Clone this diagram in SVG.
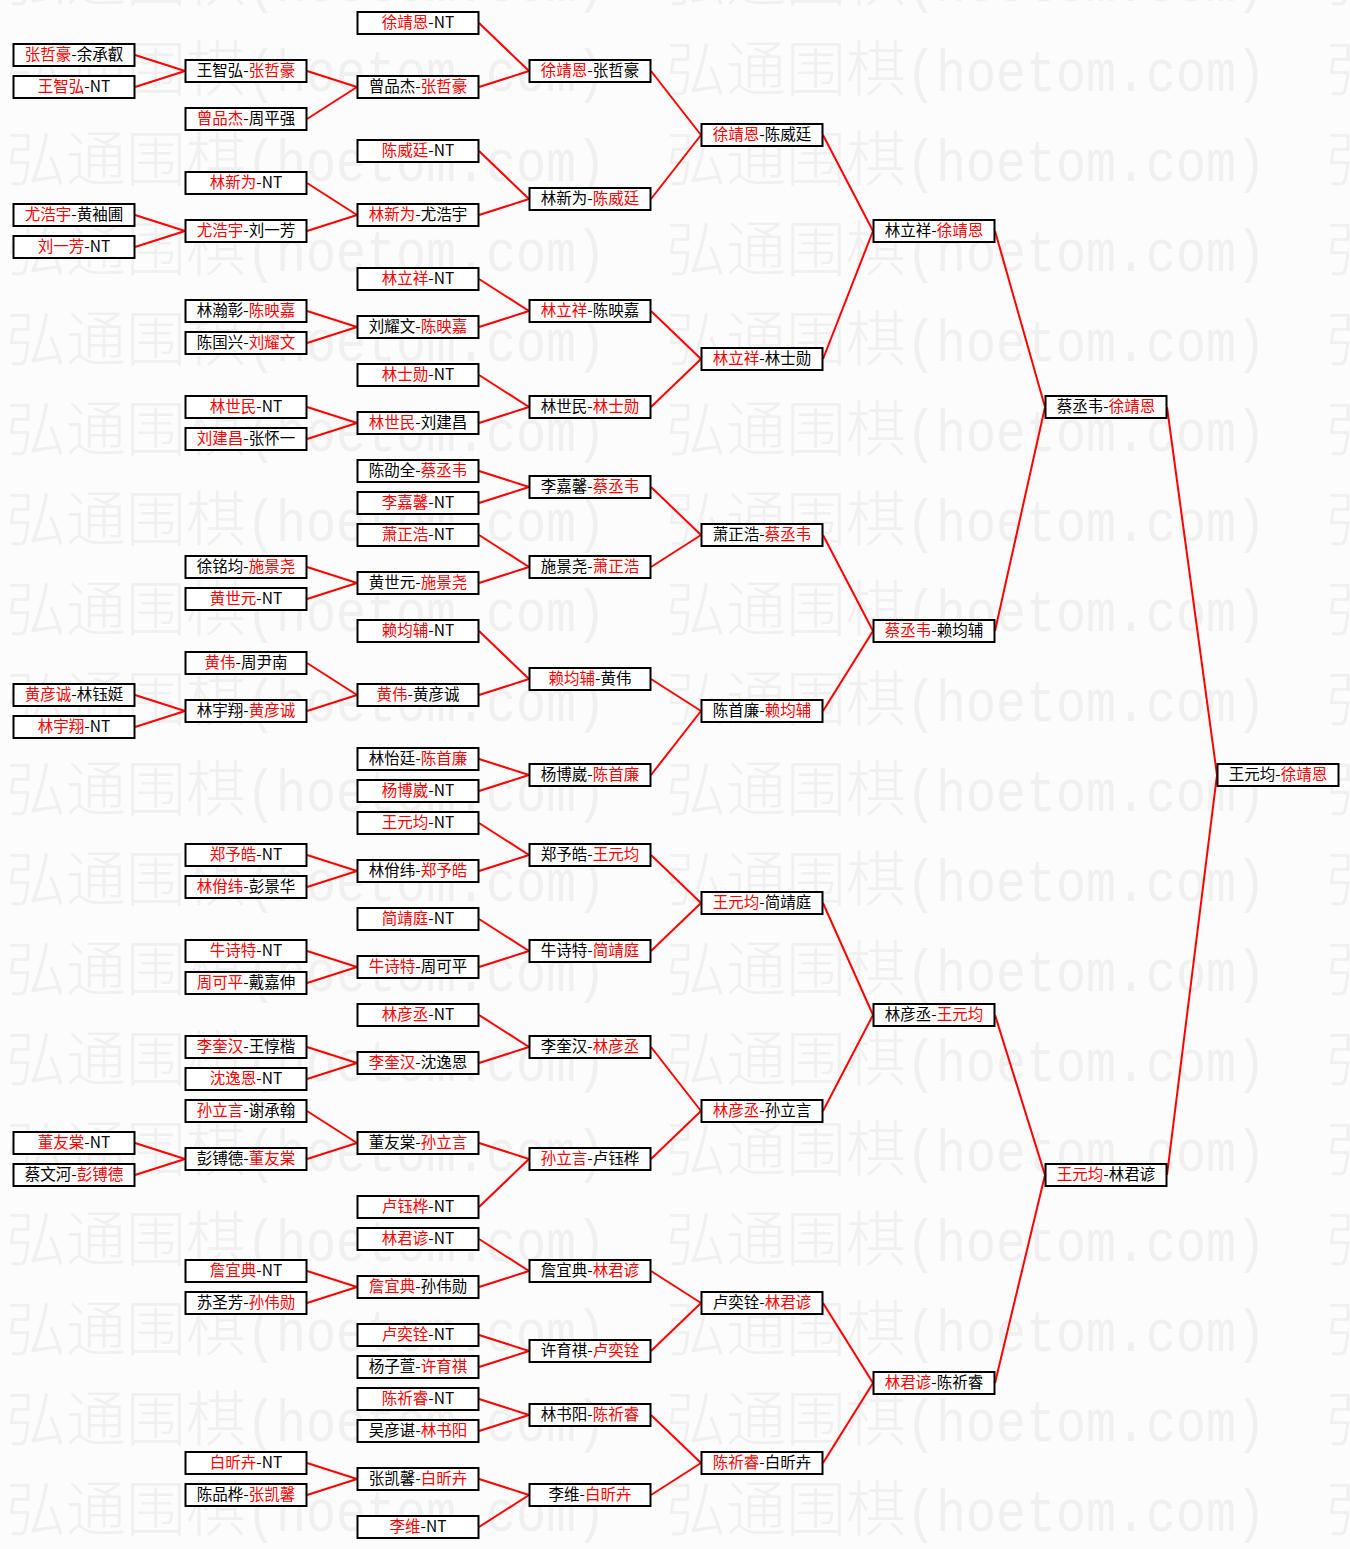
<svg xmlns="http://www.w3.org/2000/svg" width="1350" height="1549" viewBox="0 0 1350 1549">
<style>
.bg{fill:#fcfcfc}
.wmc{font-family:"Noto Sans CJK SC","Liberation Serif",sans-serif;font-size:60px;font-weight:300;fill:#f0f0f0}
.wml{font-family:"Liberation Mono",monospace;font-size:60px;fill:#f0f0f0}
.box{fill:#ffffff;stroke:#000000;stroke-width:2}
.lbl{font-family:"Noto Sans CJK SC","Liberation Sans",sans-serif;font-size:15.5px;fill:#000000;text-anchor:middle}
.r{fill:#ff0000}
.cn path{stroke:#ff0000;stroke-width:2;fill:none}
</style>
<defs>
<pattern id="wm" patternUnits="userSpaceOnUse" x="6" y="16" width="660" height="90">
<text class="wmc" x="0" y="75">弘通围棋</text>
<text class="wml" x="240" y="75" textLength="360" lengthAdjust="spacingAndGlyphs">(hoetom.com)</text>
</pattern>
</defs>
<rect class="bg" x="0" y="0" width="1350" height="1549"/>
<rect x="0" y="0" width="1350" height="1549" fill="url(#wm)"/>
<g id="connectors" class="cn">
<path d="M135 55L185 71"/><path d="M135 87L185 71"/><path d="M135 215L185 231"/><path d="M135 247L185 231"/><path d="M135 695L185 711"/><path d="M135 727L185 711"/><path d="M135 1143L185 1159"/><path d="M135 1175L185 1159"/>
<path d="M307 71L357 87"/><path d="M307 119L357 87"/><path d="M307 183L357 215"/><path d="M307 231L357 215"/><path d="M307 311L357 327"/><path d="M307 343L357 327"/><path d="M307 407L357 423"/><path d="M307 439L357 423"/><path d="M307 567L357 583"/><path d="M307 599L357 583"/><path d="M307 663L357 695"/><path d="M307 711L357 695"/><path d="M307 855L357 871"/><path d="M307 887L357 871"/><path d="M307 951L357 967"/><path d="M307 983L357 967"/><path d="M307 1047L357 1063"/><path d="M307 1079L357 1063"/><path d="M307 1111L357 1143"/><path d="M307 1159L357 1143"/><path d="M307 1271L357 1287"/><path d="M307 1303L357 1287"/><path d="M307 1463L357 1479"/><path d="M307 1495L357 1479"/>
<path d="M479 23L529 71"/><path d="M479 87L529 71"/><path d="M479 151L529 199"/><path d="M479 215L529 199"/><path d="M479 279L529 311"/><path d="M479 327L529 311"/><path d="M479 375L529 407"/><path d="M479 423L529 407"/><path d="M479 471L529 487"/><path d="M479 503L529 487"/><path d="M479 535L529 567"/><path d="M479 583L529 567"/><path d="M479 631L529 679"/><path d="M479 695L529 679"/><path d="M479 759L529 775"/><path d="M479 791L529 775"/><path d="M479 823L529 855"/><path d="M479 871L529 855"/><path d="M479 919L529 951"/><path d="M479 967L529 951"/><path d="M479 1015L529 1047"/><path d="M479 1063L529 1047"/><path d="M479 1143L529 1159"/><path d="M479 1207L529 1159"/><path d="M479 1239L529 1271"/><path d="M479 1287L529 1271"/><path d="M479 1335L529 1351"/><path d="M479 1367L529 1351"/><path d="M479 1399L529 1415"/><path d="M479 1431L529 1415"/><path d="M479 1479L529 1495"/><path d="M479 1527L529 1495"/>
<path d="M651 71L701 135"/><path d="M651 199L701 135"/><path d="M651 311L701 359"/><path d="M651 407L701 359"/><path d="M651 487L701 535"/><path d="M651 567L701 535"/><path d="M651 679L701 711"/><path d="M651 775L701 711"/><path d="M651 855L701 903"/><path d="M651 951L701 903"/><path d="M651 1047L701 1111"/><path d="M651 1159L701 1111"/><path d="M651 1271L701 1303"/><path d="M651 1351L701 1303"/><path d="M651 1415L701 1463"/><path d="M651 1495L701 1463"/>
<path d="M823 135L873 231"/><path d="M823 359L873 231"/><path d="M823 535L873 631"/><path d="M823 711L873 631"/><path d="M823 903L873 1015"/><path d="M823 1111L873 1015"/><path d="M823 1303L873 1383"/><path d="M823 1463L873 1383"/>
<path d="M995 231L1045 407"/><path d="M995 631L1045 407"/><path d="M995 1015L1045 1175"/><path d="M995 1383L1045 1175"/>
<path d="M1167 407L1217 775"/><path d="M1167 1175L1217 775"/>
</g>
<g id="n0-55"><rect class="box" x="13.5" y="44" width="121" height="22"/><text class="lbl" x="74" y="60"><tspan class="r">张哲豪</tspan>-余承叡</text></g>
<g id="n0-87"><rect class="box" x="13.5" y="76" width="121" height="22"/><text class="lbl" x="74" y="92"><tspan class="r">王智弘</tspan>-NT</text></g>
<g id="n0-215"><rect class="box" x="13.5" y="204" width="121" height="22"/><text class="lbl" x="74" y="220"><tspan class="r">尤浩宇</tspan>-黄袖圃</text></g>
<g id="n0-247"><rect class="box" x="13.5" y="236" width="121" height="22"/><text class="lbl" x="74" y="252"><tspan class="r">刘一芳</tspan>-NT</text></g>
<g id="n0-695"><rect class="box" x="13.5" y="684" width="121" height="22"/><text class="lbl" x="74" y="700"><tspan class="r">黄彦诚</tspan>-林钰娗</text></g>
<g id="n0-727"><rect class="box" x="13.5" y="716" width="121" height="22"/><text class="lbl" x="74" y="732"><tspan class="r">林宇翔</tspan>-NT</text></g>
<g id="n0-1143"><rect class="box" x="13.5" y="1132" width="121" height="22"/><text class="lbl" x="74" y="1148"><tspan class="r">董友棠</tspan>-NT</text></g>
<g id="n0-1175"><rect class="box" x="13.5" y="1164" width="121" height="22"/><text class="lbl" x="74" y="1180">蔡文河-<tspan class="r">彭镈德</tspan></text></g>
<g id="n1-71"><rect class="box" x="185.5" y="60" width="121" height="22"/><text class="lbl" x="246" y="76">王智弘-<tspan class="r">张哲豪</tspan></text></g>
<g id="n1-119"><rect class="box" x="185.5" y="108" width="121" height="22"/><text class="lbl" x="246" y="124"><tspan class="r">曾品杰</tspan>-周平强</text></g>
<g id="n1-183"><rect class="box" x="185.5" y="172" width="121" height="22"/><text class="lbl" x="246" y="188"><tspan class="r">林新为</tspan>-NT</text></g>
<g id="n1-231"><rect class="box" x="185.5" y="220" width="121" height="22"/><text class="lbl" x="246" y="236"><tspan class="r">尤浩宇</tspan>-刘一芳</text></g>
<g id="n1-311"><rect class="box" x="185.5" y="300" width="121" height="22"/><text class="lbl" x="246" y="316">林瀚彰-<tspan class="r">陈映嘉</tspan></text></g>
<g id="n1-343"><rect class="box" x="185.5" y="332" width="121" height="22"/><text class="lbl" x="246" y="348">陈国兴-<tspan class="r">刘耀文</tspan></text></g>
<g id="n1-407"><rect class="box" x="185.5" y="396" width="121" height="22"/><text class="lbl" x="246" y="412"><tspan class="r">林世民</tspan>-NT</text></g>
<g id="n1-439"><rect class="box" x="185.5" y="428" width="121" height="22"/><text class="lbl" x="246" y="444"><tspan class="r">刘建昌</tspan>-张怀一</text></g>
<g id="n1-567"><rect class="box" x="185.5" y="556" width="121" height="22"/><text class="lbl" x="246" y="572">徐铭均-<tspan class="r">施景尧</tspan></text></g>
<g id="n1-599"><rect class="box" x="185.5" y="588" width="121" height="22"/><text class="lbl" x="246" y="604"><tspan class="r">黄世元</tspan>-NT</text></g>
<g id="n1-663"><rect class="box" x="185.5" y="652" width="121" height="22"/><text class="lbl" x="246" y="668"><tspan class="r">黄伟</tspan>-周尹南</text></g>
<g id="n1-711"><rect class="box" x="185.5" y="700" width="121" height="22"/><text class="lbl" x="246" y="716">林宇翔-<tspan class="r">黄彦诚</tspan></text></g>
<g id="n1-855"><rect class="box" x="185.5" y="844" width="121" height="22"/><text class="lbl" x="246" y="860"><tspan class="r">郑予皓</tspan>-NT</text></g>
<g id="n1-887"><rect class="box" x="185.5" y="876" width="121" height="22"/><text class="lbl" x="246" y="892"><tspan class="r">林佾纬</tspan>-彭景华</text></g>
<g id="n1-951"><rect class="box" x="185.5" y="940" width="121" height="22"/><text class="lbl" x="246" y="956"><tspan class="r">牛诗特</tspan>-NT</text></g>
<g id="n1-983"><rect class="box" x="185.5" y="972" width="121" height="22"/><text class="lbl" x="246" y="988"><tspan class="r">周可平</tspan>-戴嘉伸</text></g>
<g id="n1-1047"><rect class="box" x="185.5" y="1036" width="121" height="22"/><text class="lbl" x="246" y="1052"><tspan class="r">李奎汉</tspan>-王惇楷</text></g>
<g id="n1-1079"><rect class="box" x="185.5" y="1068" width="121" height="22"/><text class="lbl" x="246" y="1084"><tspan class="r">沈逸恩</tspan>-NT</text></g>
<g id="n1-1111"><rect class="box" x="185.5" y="1100" width="121" height="22"/><text class="lbl" x="246" y="1116"><tspan class="r">孙立言</tspan>-谢承翰</text></g>
<g id="n1-1159"><rect class="box" x="185.5" y="1148" width="121" height="22"/><text class="lbl" x="246" y="1164">彭镈德-<tspan class="r">董友棠</tspan></text></g>
<g id="n1-1271"><rect class="box" x="185.5" y="1260" width="121" height="22"/><text class="lbl" x="246" y="1276"><tspan class="r">詹宜典</tspan>-NT</text></g>
<g id="n1-1303"><rect class="box" x="185.5" y="1292" width="121" height="22"/><text class="lbl" x="246" y="1308">苏圣芳-<tspan class="r">孙伟勋</tspan></text></g>
<g id="n1-1463"><rect class="box" x="185.5" y="1452" width="121" height="22"/><text class="lbl" x="246" y="1468"><tspan class="r">白昕卉</tspan>-NT</text></g>
<g id="n1-1495"><rect class="box" x="185.5" y="1484" width="121" height="22"/><text class="lbl" x="246" y="1500">陈品桦-<tspan class="r">张凯馨</tspan></text></g>
<g id="n2-23"><rect class="box" x="357.5" y="12" width="121" height="22"/><text class="lbl" x="418" y="28"><tspan class="r">徐靖恩</tspan>-NT</text></g>
<g id="n2-87"><rect class="box" x="357.5" y="76" width="121" height="22"/><text class="lbl" x="418" y="92">曾品杰-<tspan class="r">张哲豪</tspan></text></g>
<g id="n2-151"><rect class="box" x="357.5" y="140" width="121" height="22"/><text class="lbl" x="418" y="156"><tspan class="r">陈威廷</tspan>-NT</text></g>
<g id="n2-215"><rect class="box" x="357.5" y="204" width="121" height="22"/><text class="lbl" x="418" y="220"><tspan class="r">林新为</tspan>-尤浩宇</text></g>
<g id="n2-279"><rect class="box" x="357.5" y="268" width="121" height="22"/><text class="lbl" x="418" y="284"><tspan class="r">林立祥</tspan>-NT</text></g>
<g id="n2-327"><rect class="box" x="357.5" y="316" width="121" height="22"/><text class="lbl" x="418" y="332">刘耀文-<tspan class="r">陈映嘉</tspan></text></g>
<g id="n2-375"><rect class="box" x="357.5" y="364" width="121" height="22"/><text class="lbl" x="418" y="380"><tspan class="r">林士勋</tspan>-NT</text></g>
<g id="n2-423"><rect class="box" x="357.5" y="412" width="121" height="22"/><text class="lbl" x="418" y="428"><tspan class="r">林世民</tspan>-刘建昌</text></g>
<g id="n2-471"><rect class="box" x="357.5" y="460" width="121" height="22"/><text class="lbl" x="418" y="476">陈劭全-<tspan class="r">蔡丞韦</tspan></text></g>
<g id="n2-503"><rect class="box" x="357.5" y="492" width="121" height="22"/><text class="lbl" x="418" y="508"><tspan class="r">李嘉馨</tspan>-NT</text></g>
<g id="n2-535"><rect class="box" x="357.5" y="524" width="121" height="22"/><text class="lbl" x="418" y="540"><tspan class="r">萧正浩</tspan>-NT</text></g>
<g id="n2-583"><rect class="box" x="357.5" y="572" width="121" height="22"/><text class="lbl" x="418" y="588">黄世元-<tspan class="r">施景尧</tspan></text></g>
<g id="n2-631"><rect class="box" x="357.5" y="620" width="121" height="22"/><text class="lbl" x="418" y="636"><tspan class="r">赖均辅</tspan>-NT</text></g>
<g id="n2-695"><rect class="box" x="357.5" y="684" width="121" height="22"/><text class="lbl" x="418" y="700"><tspan class="r">黄伟</tspan>-黄彦诚</text></g>
<g id="n2-759"><rect class="box" x="357.5" y="748" width="121" height="22"/><text class="lbl" x="418" y="764">林怡廷-<tspan class="r">陈首廉</tspan></text></g>
<g id="n2-791"><rect class="box" x="357.5" y="780" width="121" height="22"/><text class="lbl" x="418" y="796"><tspan class="r">杨博崴</tspan>-NT</text></g>
<g id="n2-823"><rect class="box" x="357.5" y="812" width="121" height="22"/><text class="lbl" x="418" y="828"><tspan class="r">王元均</tspan>-NT</text></g>
<g id="n2-871"><rect class="box" x="357.5" y="860" width="121" height="22"/><text class="lbl" x="418" y="876">林佾纬-<tspan class="r">郑予皓</tspan></text></g>
<g id="n2-919"><rect class="box" x="357.5" y="908" width="121" height="22"/><text class="lbl" x="418" y="924"><tspan class="r">简靖庭</tspan>-NT</text></g>
<g id="n2-967"><rect class="box" x="357.5" y="956" width="121" height="22"/><text class="lbl" x="418" y="972"><tspan class="r">牛诗特</tspan>-周可平</text></g>
<g id="n2-1015"><rect class="box" x="357.5" y="1004" width="121" height="22"/><text class="lbl" x="418" y="1020"><tspan class="r">林彦丞</tspan>-NT</text></g>
<g id="n2-1063"><rect class="box" x="357.5" y="1052" width="121" height="22"/><text class="lbl" x="418" y="1068"><tspan class="r">李奎汉</tspan>-沈逸恩</text></g>
<g id="n2-1143"><rect class="box" x="357.5" y="1132" width="121" height="22"/><text class="lbl" x="418" y="1148">董友棠-<tspan class="r">孙立言</tspan></text></g>
<g id="n2-1207"><rect class="box" x="357.5" y="1196" width="121" height="22"/><text class="lbl" x="418" y="1212"><tspan class="r">卢钰桦</tspan>-NT</text></g>
<g id="n2-1239"><rect class="box" x="357.5" y="1228" width="121" height="22"/><text class="lbl" x="418" y="1244"><tspan class="r">林君谚</tspan>-NT</text></g>
<g id="n2-1287"><rect class="box" x="357.5" y="1276" width="121" height="22"/><text class="lbl" x="418" y="1292"><tspan class="r">詹宜典</tspan>-孙伟勋</text></g>
<g id="n2-1335"><rect class="box" x="357.5" y="1324" width="121" height="22"/><text class="lbl" x="418" y="1340"><tspan class="r">卢奕铨</tspan>-NT</text></g>
<g id="n2-1367"><rect class="box" x="357.5" y="1356" width="121" height="22"/><text class="lbl" x="418" y="1372">杨子萱-<tspan class="r">许育祺</tspan></text></g>
<g id="n2-1399"><rect class="box" x="357.5" y="1388" width="121" height="22"/><text class="lbl" x="418" y="1404"><tspan class="r">陈祈睿</tspan>-NT</text></g>
<g id="n2-1431"><rect class="box" x="357.5" y="1420" width="121" height="22"/><text class="lbl" x="418" y="1436">吴彦谌-<tspan class="r">林书阳</tspan></text></g>
<g id="n2-1479"><rect class="box" x="357.5" y="1468" width="121" height="22"/><text class="lbl" x="418" y="1484">张凯馨-<tspan class="r">白昕卉</tspan></text></g>
<g id="n2-1527"><rect class="box" x="357.5" y="1516" width="121" height="22"/><text class="lbl" x="418" y="1532"><tspan class="r">李维</tspan>-NT</text></g>
<g id="n3-71"><rect class="box" x="529.5" y="60" width="121" height="22"/><text class="lbl" x="590" y="76"><tspan class="r">徐靖恩</tspan>-张哲豪</text></g>
<g id="n3-199"><rect class="box" x="529.5" y="188" width="121" height="22"/><text class="lbl" x="590" y="204">林新为-<tspan class="r">陈威廷</tspan></text></g>
<g id="n3-311"><rect class="box" x="529.5" y="300" width="121" height="22"/><text class="lbl" x="590" y="316"><tspan class="r">林立祥</tspan>-陈映嘉</text></g>
<g id="n3-407"><rect class="box" x="529.5" y="396" width="121" height="22"/><text class="lbl" x="590" y="412">林世民-<tspan class="r">林士勋</tspan></text></g>
<g id="n3-487"><rect class="box" x="529.5" y="476" width="121" height="22"/><text class="lbl" x="590" y="492">李嘉馨-<tspan class="r">蔡丞韦</tspan></text></g>
<g id="n3-567"><rect class="box" x="529.5" y="556" width="121" height="22"/><text class="lbl" x="590" y="572">施景尧-<tspan class="r">萧正浩</tspan></text></g>
<g id="n3-679"><rect class="box" x="529.5" y="668" width="121" height="22"/><text class="lbl" x="590" y="684"><tspan class="r">赖均辅</tspan>-黄伟</text></g>
<g id="n3-775"><rect class="box" x="529.5" y="764" width="121" height="22"/><text class="lbl" x="590" y="780">杨博崴-<tspan class="r">陈首廉</tspan></text></g>
<g id="n3-855"><rect class="box" x="529.5" y="844" width="121" height="22"/><text class="lbl" x="590" y="860">郑予皓-<tspan class="r">王元均</tspan></text></g>
<g id="n3-951"><rect class="box" x="529.5" y="940" width="121" height="22"/><text class="lbl" x="590" y="956">牛诗特-<tspan class="r">简靖庭</tspan></text></g>
<g id="n3-1047"><rect class="box" x="529.5" y="1036" width="121" height="22"/><text class="lbl" x="590" y="1052">李奎汉-<tspan class="r">林彦丞</tspan></text></g>
<g id="n3-1159"><rect class="box" x="529.5" y="1148" width="121" height="22"/><text class="lbl" x="590" y="1164"><tspan class="r">孙立言</tspan>-卢钰桦</text></g>
<g id="n3-1271"><rect class="box" x="529.5" y="1260" width="121" height="22"/><text class="lbl" x="590" y="1276">詹宜典-<tspan class="r">林君谚</tspan></text></g>
<g id="n3-1351"><rect class="box" x="529.5" y="1340" width="121" height="22"/><text class="lbl" x="590" y="1356">许育祺-<tspan class="r">卢奕铨</tspan></text></g>
<g id="n3-1415"><rect class="box" x="529.5" y="1404" width="121" height="22"/><text class="lbl" x="590" y="1420">林书阳-<tspan class="r">陈祈睿</tspan></text></g>
<g id="n3-1495"><rect class="box" x="529.5" y="1484" width="121" height="22"/><text class="lbl" x="590" y="1500">李维-<tspan class="r">白昕卉</tspan></text></g>
<g id="n4-135"><rect class="box" x="701.5" y="124" width="121" height="22"/><text class="lbl" x="762" y="140"><tspan class="r">徐靖恩</tspan>-陈威廷</text></g>
<g id="n4-359"><rect class="box" x="701.5" y="348" width="121" height="22"/><text class="lbl" x="762" y="364"><tspan class="r">林立祥</tspan>-林士勋</text></g>
<g id="n4-535"><rect class="box" x="701.5" y="524" width="121" height="22"/><text class="lbl" x="762" y="540">萧正浩-<tspan class="r">蔡丞韦</tspan></text></g>
<g id="n4-711"><rect class="box" x="701.5" y="700" width="121" height="22"/><text class="lbl" x="762" y="716">陈首廉-<tspan class="r">赖均辅</tspan></text></g>
<g id="n4-903"><rect class="box" x="701.5" y="892" width="121" height="22"/><text class="lbl" x="762" y="908"><tspan class="r">王元均</tspan>-简靖庭</text></g>
<g id="n4-1111"><rect class="box" x="701.5" y="1100" width="121" height="22"/><text class="lbl" x="762" y="1116"><tspan class="r">林彦丞</tspan>-孙立言</text></g>
<g id="n4-1303"><rect class="box" x="701.5" y="1292" width="121" height="22"/><text class="lbl" x="762" y="1308">卢奕铨-<tspan class="r">林君谚</tspan></text></g>
<g id="n4-1463"><rect class="box" x="701.5" y="1452" width="121" height="22"/><text class="lbl" x="762" y="1468"><tspan class="r">陈祈睿</tspan>-白昕卉</text></g>
<g id="n5-231"><rect class="box" x="873.5" y="220" width="121" height="22"/><text class="lbl" x="934" y="236">林立祥-<tspan class="r">徐靖恩</tspan></text></g>
<g id="n5-631"><rect class="box" x="873.5" y="620" width="121" height="22"/><text class="lbl" x="934" y="636"><tspan class="r">蔡丞韦</tspan>-赖均辅</text></g>
<g id="n5-1015"><rect class="box" x="873.5" y="1004" width="121" height="22"/><text class="lbl" x="934" y="1020">林彦丞-<tspan class="r">王元均</tspan></text></g>
<g id="n5-1383"><rect class="box" x="873.5" y="1372" width="121" height="22"/><text class="lbl" x="934" y="1388"><tspan class="r">林君谚</tspan>-陈祈睿</text></g>
<g id="n6-407"><rect class="box" x="1045.5" y="396" width="121" height="22"/><text class="lbl" x="1106" y="412">蔡丞韦-<tspan class="r">徐靖恩</tspan></text></g>
<g id="n6-1175"><rect class="box" x="1045.5" y="1164" width="121" height="22"/><text class="lbl" x="1106" y="1180"><tspan class="r">王元均</tspan>-林君谚</text></g>
<g id="n7-775"><rect class="box" x="1217.5" y="764" width="121" height="22"/><text class="lbl" x="1278" y="780">王元均-<tspan class="r">徐靖恩</tspan></text></g>
</svg>
